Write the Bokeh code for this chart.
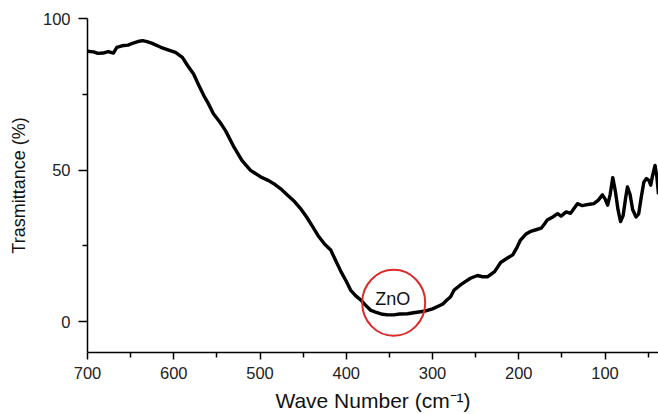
from bokeh.plotting import figure
from bokeh.models import Range1d, FixedTicker, ColumnDataSource
from bokeh.core.properties import value
from bokeh.embed import file_html
from bokeh.resources import INLINE

# ---- data ----
wavenumber = [700, 693, 688, 682, 676, 670, 666, 660, 653, 647, 640, 636, 630, 625, 615,
              605, 598, 590, 584, 577, 571, 565, 560, 554, 546, 540, 531, 521, 511, 499,
              490, 484, 476, 468, 460, 453, 446, 439, 433, 425, 418, 412, 406, 400, 395,
              389, 383, 378, 372, 365, 358, 352, 345, 338, 329, 320, 310, 300, 294, 288,
              283, 279, 275, 268, 262, 256, 248, 242, 236, 228, 221, 214, 207, 202, 198,
              192, 186, 180, 174, 170, 167, 160, 155, 151, 145, 140, 136, 132, 127, 124,
              118, 113, 108, 103, 100, 97, 94, 91, 88, 85, 82, 79, 76, 74, 71,
              68, 64, 61, 58, 55, 52, 49, 47, 45, 42, 40, 38]
transmittance = [89.2, 89.0, 88.5, 88.6, 89.1, 88.6, 90.5, 91.0, 91.2, 91.9, 92.5, 92.7, 92.3, 91.8, 90.5,
                 89.5, 88.8, 87.2, 84.5, 81.7, 78.0, 74.5, 72.0, 68.6, 65.6, 63.0, 58.0, 53.2, 49.9, 47.7,
                 46.5, 45.5, 43.8, 41.7, 39.6, 37.3, 34.5, 31.3, 28.5, 25.5, 23.6, 20.0, 16.4, 13.3, 10.4,
                 8.5, 7.1, 5.5, 3.8, 3.0, 2.4, 2.2, 2.2, 2.5, 2.6, 3.0, 3.4, 4.2, 5.0, 5.8,
                 7.2, 8.2, 10.4, 12.0, 13.2, 14.3, 15.2, 14.8, 14.8, 16.5, 19.5, 20.8, 22.0, 24.5, 26.9,
                 28.8, 29.8, 30.3, 30.8, 32.3, 33.5, 34.6, 35.6, 34.8, 36.2, 35.7, 37.3, 38.9, 38.3, 38.4,
                 38.7, 38.9, 40.0, 41.8, 40.5, 38.4, 42.0, 47.5, 43.0, 37.0, 33.0, 35.0, 41.0, 44.4, 42.0,
                 37.0, 34.5, 35.5, 41.0, 46.0, 47.2, 46.5, 45.0, 48.0, 51.5, 48.0, 42.0]

x_ticks = [700, 600, 500, 400, 300, 200, 100]
x_minor = [650, 550, 450, 350, 250, 150, 50]
y_ticks = [0, 50, 100]
y_minor = [25, 75]

label_text = ["ZnO"]
label_x = [346]
label_y = [7.3]
mark_x = [345]
mark_y = [6.2]

FONT = "Liberation Sans"

p = figure(width=658, height=414, output_backend="svg", toolbar_location=None,
           x_range=Range1d(700, 38), y_range=Range1d(-10.2, 100),
           min_border_left=87, min_border_right=0, min_border_top=18, min_border_bottom=61)
p.outline_line_color = None
p.grid.visible = False
p.background_fill_color = "white"

src = ColumnDataSource(dict(x=wavenumber, y=transmittance))
p.line("x", "y", source=src, line_color="black", line_width=3.4, line_join="round")

p.ellipse(x=mark_x, y=mark_y, width=63, height=66, width_units="screen", height_units="screen",
          fill_color=None, line_color="#dc2a2a", line_width=2)
p.text(x=label_x, y=label_y, text=label_text, text_align="center", text_baseline="middle",
       text_font=value(FONT), text_font_size="18px", text_color="#111111")

for ax in (p.xaxis[0], p.yaxis[0]):
    ax.axis_line_width = 1.5
    ax.axis_line_color = "black"
    ax.major_tick_line_width = 1.5
    ax.minor_tick_line_width = 1.5
    ax.major_tick_line_color = "black"
    ax.minor_tick_line_color = "black"
    ax.major_tick_in = 0
    ax.minor_tick_in = 0
    ax.minor_tick_out = 5
    ax.major_label_text_font = FONT
    ax.major_label_text_font_size = "16.5px"
    ax.major_label_text_color = "#222222"
    ax.axis_label_text_font = FONT
    ax.axis_label_text_font_style = "normal"
    ax.axis_label_text_color = "#111111"

xa = p.xaxis[0]
xa.ticker = FixedTicker(ticks=x_ticks, minor_ticks=x_minor)
xa.major_tick_out = 7
xa.major_label_standoff = 7
xa.axis_label = "Wave Number (cm⁻¹)"
xa.axis_label_text_font_size = "21px"
xa.axis_label_standoff = 7

ya = p.yaxis[0]
ya.ticker = FixedTicker(ticks=y_ticks, minor_ticks=y_minor)
ya.major_tick_out = 9
ya.major_label_standoff = 8
ya.axis_label = "Trasmittance (%)"
ya.axis_label_text_font_size = "18px"
ya.axis_label_standoff = 11

open("out.html", "w").write(file_html(p, INLINE))
